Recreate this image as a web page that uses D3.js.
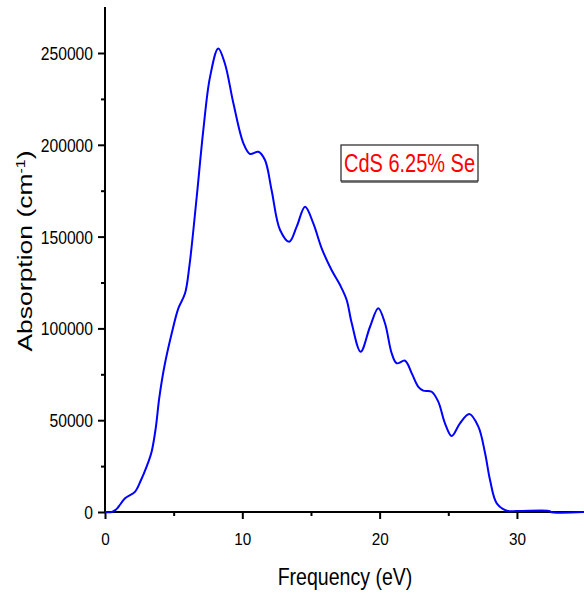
<!DOCTYPE html>
<html>
<head>
<meta charset="utf-8">
<script src="https://cdn.jsdelivr.net/npm/d3@7"></script>
<style>
  html, body { margin: 0; padding: 0; background: #fff; }
  svg { display: block; }
  text { font-family: "Liberation Sans", Arial, sans-serif; }
</style>
</head>
<body>
<script>
const frequency = [0, 0.5, 0.75, 1.0, 1.46, 2.18, 2.6, 3.03, 3.4, 3.7, 3.95, 4.32, 4.86, 5.34, 5.83, 6.14, 6.68, 7.16, 7.65, 8.25, 8.74, 9.35, 10.08, 10.56, 11.17, 11.65, 12.13, 12.75, 13.42, 13.96, 14.57, 15.17, 15.78, 16.5, 17.12, 17.6, 17.97, 18.62, 19.3, 19.9, 20.39, 20.88, 21.24, 21.85, 22.34, 22.82, 23.18, 23.79, 24.27, 24.76, 25.25, 25.85, 26.53, 27.19, 27.68, 28.04, 28.53, 29.26, 30, 32.4, 32.45, 35];
const absorption = [0, 0, 1000, 3000, 7460, 11000, 17000, 24700, 33000, 46000, 62000, 79100, 97300, 110900, 119100, 133600, 171700, 208000, 237000, 252500, 244000, 222600, 200800, 195000, 196200, 191700, 175400, 153600, 147200, 155400, 166300, 157200, 143600, 131800, 123600, 115500, 102800, 87300, 100900, 111000, 102800, 86400, 81000, 82400, 75500, 68200, 66100, 65500, 60100, 48300, 41400, 48300, 53400, 46500, 32000, 17400, 4700, 700, 500, 500, 0, 0];
const xTicks = [0, 10, 20, 30];
const xMinorTicks = [5, 15, 25];
const yTicks = [0, 50000, 100000, 150000, 200000, 250000];
const yMinorTicks = [25000, 75000, 125000, 175000, 225000];
const seriesLabel = "CdS 6.25% Se";
const xTitle = "Frequency (eV)";

const W = 584, H = 598;
const svg = d3.select("body").append("svg").attr("width", W).attr("height", H);

const x = d3.scaleLinear().domain([0, 35]).range([105, 585.6]);
const y = d3.scaleLinear().domain([0, 275000]).range([512, 7.1]);

// X axis
const xAxis = svg.append("g").attr("transform", `translate(0,${y(0)})`)
  .call(d3.axisBottom(x).tickValues(xTicks).tickSize(7).tickFormat(d3.format("d")));
xAxis.select(".domain").attr("stroke", "#000").attr("stroke-width", 2).attr("d", `M${x(0)},0H${x(35)}`);
xAxis.selectAll(".tick line").attr("stroke", "#000").attr("stroke-width", 2);
xAxis.selectAll(".tick text").attr("font-size", 17).attr("fill", "#000")
  .attr("font-family", "Liberation Sans, Arial, sans-serif")
  .attr("y", 0).attr("dy", 0)
  .attr("transform", "translate(0,33) scale(0.9,1)");
svg.append("g").attr("transform", `translate(0,${y(0)})`)
  .call(d3.axisBottom(x).tickValues(xMinorTicks).tickSize(4).tickFormat(""))
  .call(g => g.select(".domain").remove())
  .selectAll(".tick line").attr("stroke", "#000").attr("stroke-width", 2);

// Y axis
const yAxis = svg.append("g").attr("transform", `translate(${x(0)},0)`)
  .call(d3.axisLeft(y).tickValues(yTicks).tickSize(7).tickFormat(d3.format("d")));
yAxis.select(".domain").attr("stroke", "#000").attr("stroke-width", 2).attr("d", `M0,${y(0)}V${y(275000)}`);
yAxis.selectAll(".tick line").attr("stroke", "#000").attr("stroke-width", 2);
yAxis.selectAll(".tick text").attr("font-size", 18).attr("fill", "#000")
  .attr("font-family", "Liberation Sans, Arial, sans-serif")
  .attr("x", 0).attr("dy", 0)
  .attr("transform", "translate(-12,6.5) scale(0.87,1)");
svg.append("g").attr("transform", `translate(${x(0)},0)`)
  .call(d3.axisLeft(y).tickValues(yMinorTicks).tickSize(4).tickFormat(""))
  .call(g => g.select(".domain").remove())
  .selectAll(".tick line").attr("stroke", "#000").attr("stroke-width", 2);

// Curve (drawn over the axes, as in the reference)
const data = frequency.map((f, i) => [f, absorption[i]]);
const line = d3.line().x(d => x(d[0])).y(d => y(d[1])).curve(d3.curveCatmullRom.alpha(0.5));
svg.append("path").datum(data).attr("d", line)
  .attr("fill", "none").attr("stroke", "#0000ff").attr("stroke-width", 2);

// Axis titles
svg.append("text").attr("transform", "translate(345,585) scale(0.85,1)").attr("text-anchor", "middle")
  .attr("font-size", 23).attr("fill", "#000").text(xTitle);

const yt = svg.append("text").attr("transform", "translate(32,251) rotate(-90) scale(1,0.75)")
  .attr("text-anchor", "middle").attr("font-size", 26.5).attr("fill", "#000");
yt.append("tspan").text("Absorption (cm");
yt.append("tspan").attr("dy", -10).attr("font-size", 16).text("-1");
yt.append("tspan").attr("dy", 10).text(")");

// Legend box
svg.append("rect").attr("x", 341).attr("y", 145).attr("width", 137).attr("height", 36)
  .attr("fill", "#fff").attr("stroke", "#222").attr("stroke-width", 1.2);
svg.append("line").attr("x1", 341).attr("x2", 478).attr("y1", 182).attr("y2", 182)
  .attr("stroke", "#555").attr("stroke-width", 1.5);
svg.append("text").attr("transform", "translate(409.5,172) scale(0.8,1)").attr("text-anchor", "middle")
  .attr("font-size", 25).attr("fill", "#ff0000").text(seriesLabel);
</script>
</body>
</html>
